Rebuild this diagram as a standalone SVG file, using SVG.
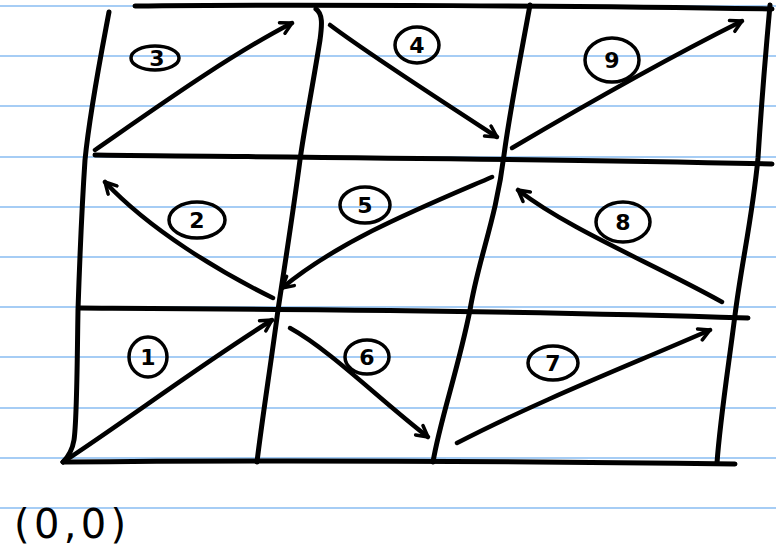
<svg xmlns="http://www.w3.org/2000/svg" width="776" height="556" viewBox="0 0 776 556">
<style>
.rule{stroke:#a6cdf5;stroke-width:2;fill:none}
.ink{stroke:#000;stroke-width:5;fill:none;stroke-linecap:round;stroke-linejoin:round}
.arw{stroke:#000;stroke-width:4.5;fill:none;stroke-linecap:round;stroke-linejoin:round}
.ring{stroke:#000;stroke-width:3.5;fill:none}
.num{font-family:"DejaVu Sans",sans-serif;font-size:22px;font-weight:bold;fill:#000;text-anchor:middle}
.coord{font-family:"DejaVu Sans",sans-serif;font-size:40px;fill:#000}
</style>
<defs>
<marker id="head" viewBox="0 0 16 16" refX="13" refY="8" markerWidth="16" markerHeight="16" markerUnits="userSpaceOnUse" orient="auto">
<path d="M2,2 L13,8 L2,14" stroke="#000" stroke-width="3.5" fill="none" stroke-linecap="round" stroke-linejoin="round"/>
</marker>
</defs>
<rect width="776" height="556" fill="#fff"/>
<g id="paper">
<path class="rule" d="M0,6H776M0,56H776M0,106H776M0,157H776M0,207H776M0,257H776M0,307H776M0,357H776M0,408H776M0,458H776M0,508H776"/>
</g>
<g id="grid">
<path class="ink" d="M135,6 C300,4 600,6 772,9"/>
<path class="ink" d="M95,155 C250,157 500,158 772,164"/>
<path class="ink" d="M80,308 C250,309 500,310 748,318"/>
<path class="ink" d="M63,462 C250,460 500,461 735,464"/>
<path class="ink" d="M109,12 C100,60 90,110 85,160 C81,220 79,280 78,310 C77,370 77,420 74,440 C72,452 67,458 63,462"/>
<path class="ink" d="M316,9 C323,14 322,25 320,40 C312,90 304,130 300,160 C292,220 284,270 278,310 C270,370 262,420 257,462"/>
<path class="ink" d="M530,5 C520,60 510,110 504,155 C496,220 478,260 470,310 C458,370 440,420 433,462"/>
<path class="ink" d="M770,5 C765,60 761,110 758,158 C752,220 742,260 735,315 C728,370 720,420 717,463"/>
</g>
<g id="connectors">
<path id="a1" class="arw" marker-end="url(#head)" d="M63,462 C120,425 200,365 272,320"/>
<path id="a2" class="arw" marker-end="url(#head)" d="M273,298 C220,272 150,230 105,182"/>
<path id="a3" class="arw" marker-end="url(#head)" d="M95,150 C160,105 230,55 292,23"/>
<path id="a4" class="arw" marker-end="url(#head)" d="M330,25 C370,55 440,100 497,137"/>
<path id="a5" class="arw" marker-end="url(#head)" d="M492,177 C420,208 340,240 282,288"/>
<path id="a6" class="arw" marker-end="url(#head)" d="M290,328 C330,350 380,400 428,437"/>
<path id="a7" class="arw" marker-end="url(#head)" d="M457,443 C540,400 630,365 710,330"/>
<path id="a8" class="arw" marker-end="url(#head)" d="M722,302 C650,262 570,230 518,190"/>
<path id="a9" class="arw" marker-end="url(#head)" d="M512,148 C590,102 670,57 742,21"/>
</g>
<g id="label-1"><ellipse class="ring" cx="148" cy="357" rx="19" ry="20"/><text class="num" x="148" y="365">1</text></g>
<g id="label-2"><ellipse class="ring" cx="197" cy="220" rx="28" ry="18"/><text class="num" x="197" y="228">2</text></g>
<g id="label-3"><ellipse class="ring" cx="155" cy="58" rx="24" ry="12"/><text class="num" x="157" y="66">3</text></g>
<g id="label-4"><ellipse class="ring" cx="417" cy="45" rx="22" ry="18"/><text class="num" x="417" y="53">4</text></g>
<g id="label-5"><ellipse class="ring" cx="365" cy="205" rx="25" ry="18"/><text class="num" x="365" y="213">5</text></g>
<g id="label-6"><ellipse class="ring" cx="367" cy="357" rx="22" ry="17"/><text class="num" x="367" y="365">6</text></g>
<g id="label-7"><ellipse class="ring" cx="553" cy="363" rx="25" ry="17"/><text class="num" x="553" y="371">7</text></g>
<g id="label-8"><ellipse class="ring" cx="623" cy="222" rx="27" ry="20"/><text class="num" x="623" y="230">8</text></g>
<g id="label-9"><ellipse class="ring" cx="612" cy="60" rx="27" ry="22"/><text class="num" x="612" y="68">9</text></g>
<g id="origin"><text class="coord" x="14" y="538" textLength="112" lengthAdjust="spacing">(0,0)</text></g>
</svg>
